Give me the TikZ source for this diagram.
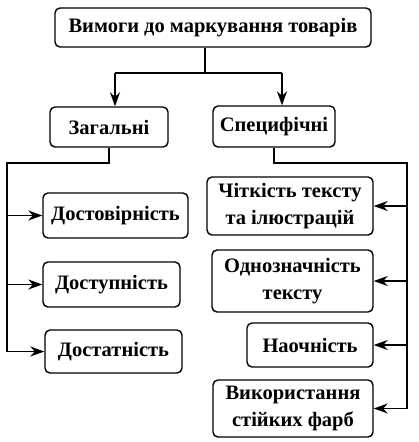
\documentclass[tikz,border=0pt]{standalone}
\usepackage{fontspec}
\setmainfont{Liberation Serif}
\usetikzlibrary{arrows.meta}
\tikzset{
  box/.style={draw, rounded corners=5pt, line width=1.4pt, align=center, inner sep=0pt,
    font=\bfseries\fontsize{20.5}{27}\selectfont},
  link/.style={line width=1.2pt},
  arr/.style={link, -{Stealth[length=14pt, width=10pt, inset=4.5pt]}}
}
\begin{document}
\begin{tikzpicture}[x=1pt, y=-1pt]
            \useasboundingbox (0, 0) rectangle (418, 442);

            % Top level
            \node[box, minimum width=316pt, minimum height=39pt] (top) at (213, 27.5) {Вимоги до маркування товарів};
            \node[box, minimum width=118pt, minimum height=40pt] (zag) at (109, 127) {Загальні};
            \node[box, minimum width=122pt, minimum height=41pt] (spec) at (274, 126.5) {Специфічні};

            \coordinate (split) at (205, 73);
            \coordinate (jl) at (115, 73);
            \coordinate (jr) at (282, 73);
            \draw[link] (split |- top.south) -- (split);
            \draw[link] (jl) -- (jr);
            \draw[arr] (jl) -- (jl |- zag.north);
            \draw[arr] (jr) -- (jr |- spec.north);

            % General requirements
            \node[box, minimum width=145pt, minimum height=45pt] (dvir) at (115.5, 215.5) {Достовірність};
            \node[box, minimum width=137pt, minimum height=45pt] (dstup) at (111.5, 284.5) {Доступність};
            \node[box, minimum width=137pt, minimum height=43pt] (dstat) at (113.5, 351.5) {Достатність};

            \coordinate (lt) at (7, 163);
            \draw[link] (zag.south) -- (zag.south |- lt) -- (lt) -- (lt |- dstat.west);
            \foreach \n in {dvir, dstup, dstat} {
                    \draw[arr] (lt |- \n.west) -- (\n.west);
                }

            % Specific requirements
            \node[box, minimum width=166pt, minimum height=58pt] (chit) at (290, 206) {Чіткість тексту\\та ілюстрацій};
            \node[box, minimum width=161pt, minimum height=62pt] (odn) at (292.5, 281) {Однозначність\\тексту};
            \node[box, minimum width=126pt, minimum height=44pt] (nao) at (310, 345) {Наочність};
            \node[box, minimum width=160pt, minimum height=57pt] (vyk) at (293, 408.5) {Використання\\стійких фарб};

            \coordinate (rt) at (407, 163);
            \draw[link] (spec.south) -- (spec.south |- rt) -- (rt) -- (rt |- vyk.east);
            \foreach \n in {chit, odn, nao, vyk} {
                    \draw[arr] (rt |- \n.east) -- (\n.east);
                }
        \end{tikzpicture}
\end{document}
